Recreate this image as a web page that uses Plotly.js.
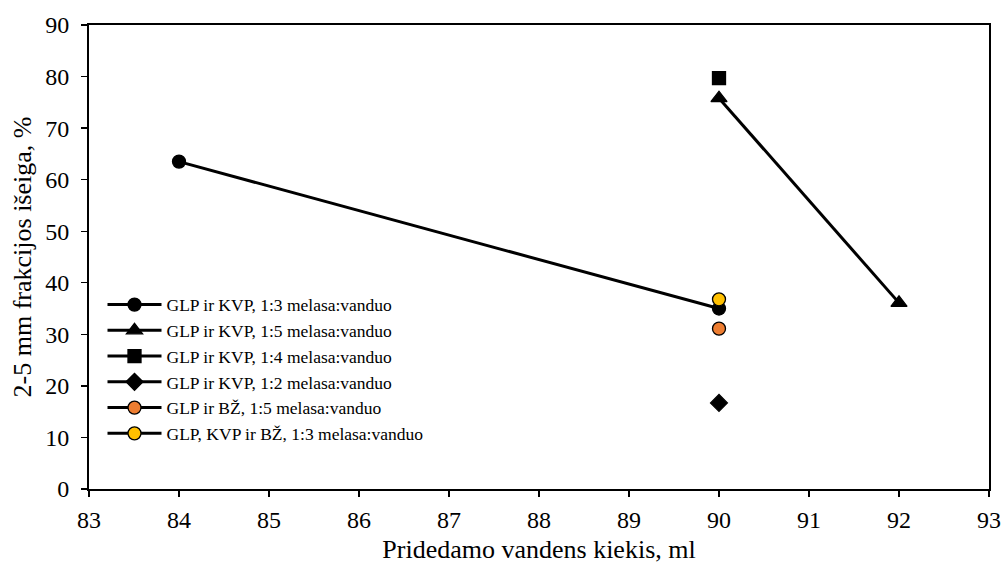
<!DOCTYPE html>
<html>
<head>
<meta charset="utf-8">
<script src="https://cdn.plot.ly/plotly-3.0.1.min.js"></script>
<style>
  html, body { margin: 0; padding: 0; background: #fff; }
  #chart { width: 1003px; height: 564px; }
</style>
</head>
<body>
<div id="chart"></div>
<script>
// Water added (ml) and yield of the 2-5 mm fraction (%) per granulation mix
const names = [
  "GLP ir KVP, 1:3 melasa:vanduo",
  "GLP ir KVP, 1:5 melasa:vanduo",
  "GLP ir KVP, 1:4 melasa:vanduo",
  "GLP ir KVP, 1:2 melasa:vanduo",
  "GLP ir BŽ, 1:5 melasa:vanduo",
  "GLP, KVP ir BŽ, 1:3 melasa:vanduo"
];
const water13 = [84, 90];
const yield13 = [63.5, 35.0];
const water15 = [90, 92];
const yield15 = [75.8, 36.1];
const water14 = [90];
const yield14 = [79.7];
const water12 = [90];
const yield12 = [16.7];
const waterBZ15 = [90];
const yieldBZ15 = [31.1];
const waterAll13 = [90];
const yieldAll13 = [36.8];

const xTicks = [83, 84, 85, 86, 87, 88, 89, 90, 91, 92, 93];
const yTicks = [0, 10, 20, 30, 40, 50, 60, 70, 80, 90];

function series(name, x, y, symbol, size, fill) {
  return {
    type: "scatter",
    mode: "lines+markers",
    name: name,
    x: x,
    y: y,
    line: { color: "#000", width: 3 },
    marker: { symbol: symbol, size: size, color: fill, line: { color: "#000", width: 1.3 } }
  };
}

const traces = [
  series(names[0], water13, yield13, "circle", 13, "#000"),
  series(names[1], water15, yield15, "triangle-up", 14, "#000"),
  series(names[2], water14, yield14, "square", 13, "#000"),
  series(names[3], water12, yield12, "diamond", 13, "#000"),
  series(names[4], waterBZ15, yieldBZ15, "circle", 13, "#ED7D31"),
  series(names[5], waterAll13, yieldAll13, "circle", 13, "#FFC000")
];

const serif = "Times New Roman";
const f = (size) => ({ family: serif, size: size, color: "#000" });

// legend key: longer line with the marker in its middle
const KEY_WIDTH = 54;

const layout = {
  width: 1003,
  height: 564,
  margin: { l: 89, r: 14, t: 25, b: 75 },
  paper_bgcolor: "#fff",
  plot_bgcolor: "#fff",
  font: f(20),
  showlegend: true,
  legend: {
    x: 0.015, xanchor: "left",
    y: 0.436, yanchor: "top",
    bgcolor: "rgba(0,0,0,0)",
    font: f(17.5),
    tracegroupgap: 0,
    itemwidth: KEY_WIDTH
  },
  xaxis: {
    range: [83, 93],
    tickvals: xTicks,
    ticktext: xTicks.map(String),
    ticks: "outside", ticklen: 6, tickwidth: 1.3, tickcolor: "#000",
    showline: true, linecolor: "#000", linewidth: 2, mirror: true,
    showgrid: false, zeroline: false,
    tickfont: f(24),
    ticklabelstandoff: 2,
    title: { text: "Pridedamo vandens kiekis, ml", font: f(26), standoff: 22 }
  },
  yaxis: {
    range: [0, 90],
    tickvals: yTicks,
    ticktext: yTicks.map(String),
    ticks: "outside", ticklen: 6, tickwidth: 1.3, tickcolor: "#000",
    showline: true, linecolor: "#000", linewidth: 2, mirror: true,
    showgrid: false, zeroline: false,
    tickfont: f(24),
    ticklabelstandoff: 7,
    title: { text: "2-5 mm frakcijos išeiga, %", font: f(26), standoff: 6 }
  }
};

const gd = document.getElementById("chart");
Plotly.newPlot(gd, traces, layout, { displayModeBar: false, staticPlot: true }).then(() => {
  gd.querySelectorAll(".legend .traces").forEach((item) => {
    item.querySelectorAll(".legendlines path").forEach((p) => {
      p.setAttribute("d", "M5,0h" + KEY_WIDTH);
    });
    item.querySelectorAll(".legendpoints path.scatterpts").forEach((p) => {
      p.setAttribute("transform", "translate(" + (5 + KEY_WIDTH / 2) + ",0)");
    });
  });
});
</script>
</body>
</html>
